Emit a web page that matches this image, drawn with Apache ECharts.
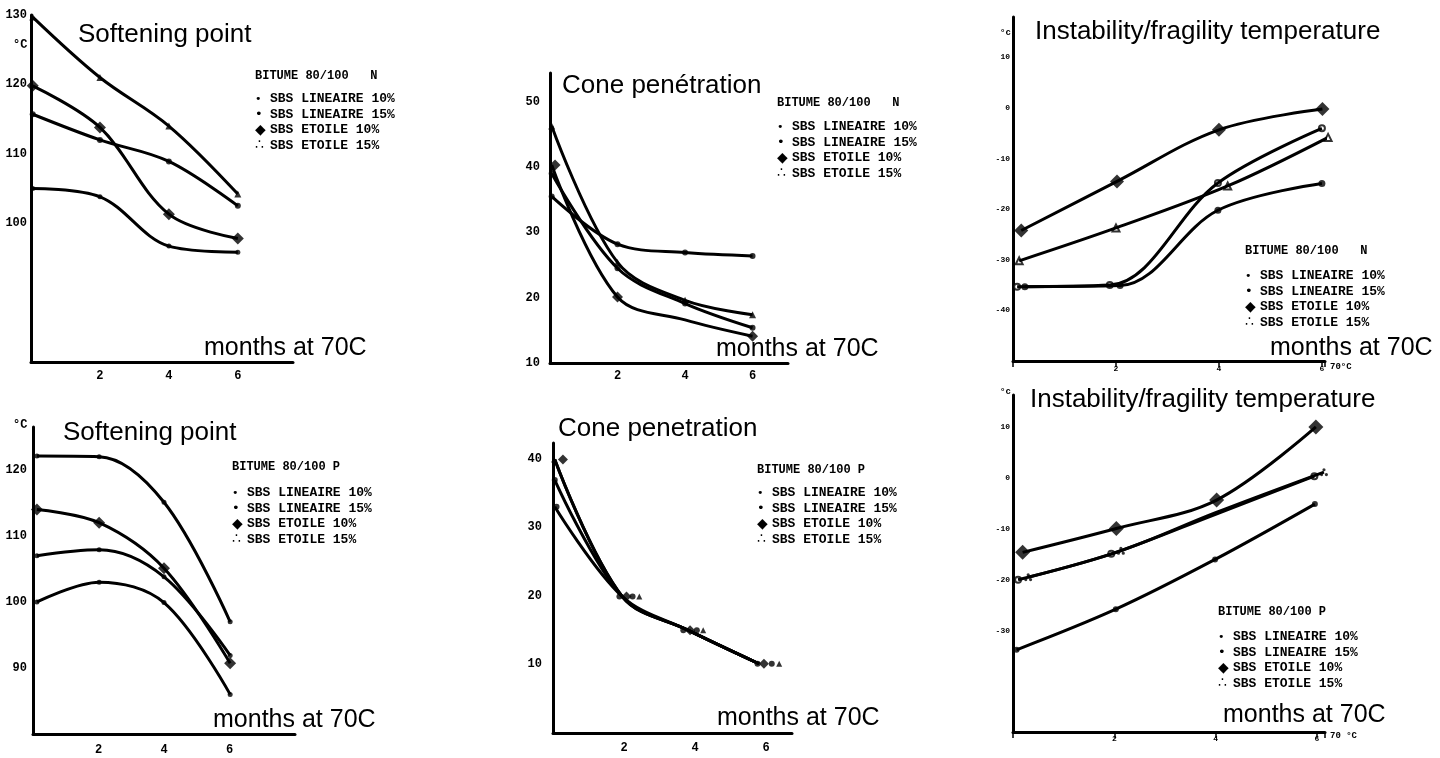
<!DOCTYPE html>
<html>
<head>
<meta charset="utf-8">
<script src="https://cdn.jsdelivr.net/npm/echarts@6/dist/echarts.min.js"></script>
<style>
html, body { margin: 0; padding: 0; background: #fff; }
#chart { width: 1440px; height: 758px; }
</style>
</head>
<body>
<div id="chart"></div>
<script>
// same four blends in every panel
const blendNames = ["SBS LINEAIRE 10%", "SBS LINEAIRE 15%", "SBS ETOILE 10%", "SBS ETOILE 15%"];
const xTickLabels = [2, 4, 6];

// 1 - softening point, bitume 80/100 N
const spN_months = [0.05, 2, 4, 6];
const spN_lin10 = [105.0, 103.8, 96.7, 95.8];
const spN_lin15 = [115.7, 112.0, 108.9, 102.5];
const spN_eto10 = [119.8, 113.8, 101.3, 97.8];
const spN_eto15 = [129.7, 121.0, 114.0, 104.2];
const spN_yTicks = [100, 110, 120, 130];

// 2 - cone penetration, N
const cpN_months = [0.05, 2, 4, 6];
const cpN_eto10_marks = [0.15, 2, null, 6];
const cpN_lin10 = [35.5, 28.2, 26.9, 26.4];
const cpN_lin15 = [39.0, 24.5, 19.1, 15.4];
const cpN_eto10 = [40.3, 20.1, 16.6, 14.1];
const cpN_eto15 = [46.3, 25.4, 19.6, 17.4];
const cpN_yTicks = [10, 20, 30, 40, 50];

// 3 - instability/fragility temperature, N
const ifN_lin10_m = [0.23, 2.08, 3.98, 6.0];
const ifN_lin15_m = [0.08, 1.88, 3.98, 6.0];
const ifN_eto10_m = [0.16, 2.02, 4.0, 6.01];
const ifN_eto15_m = [0.12, 2.0, 4.17, 6.12];
const ifN_lin10 = [-35.3, -35.1, -20.2, -14.9];
const ifN_lin15 = [-35.3, -35.0, -14.8, -4.0];
const ifN_eto10 = [-24.2, -14.5, -4.3, -0.2];
const ifN_eto15 = [-30.2, -23.7, -15.4, -5.8];
const ifN_yTicks = [-40, -30, -20, -10, 0, 10];

// 4 - softening point, P
const spP_months = [0.12, 2.02, 4.0, 6.02];
const spP_lin10 = [100.0, 103.0, 99.9, 86.0];
const spP_lin15 = [107.0, 107.9, 103.8, 91.9];
const spP_eto10 = [114.0, 112.0, 105.1, 90.7];
const spP_eto15 = [122.1, 122.0, 115.1, 97.0];
const spP_yTicks = [90, 100, 110, 120];

// 5 - cone penetration, P (markers drawn side by side)
const cpP_lineMonths = [0.05, 1.95, 3.8, 5.8];
const cpP_lin10_m = [0.05, 1.87, 3.67, 5.76];
const cpP_eto10_m = [0.28, 2.07, 3.86, 5.94];
const cpP_lin15_m = [0.1, 2.24, 4.05, 6.16];
const cpP_eto15_m = [0.03, 2.43, 4.23, 6.37];
const cpP_lin10 = [36.9, 19.9, 15.0, 10.1];
const cpP_lin15 = [33.0, 19.9, 15.0, 10.1];
const cpP_eto10 = [39.9, 19.9, 15.0, 10.1];
const cpP_eto15 = [39.9, 19.9, 15.0, 10.1];
const cpP_yTicks = [10, 20, 30, 40];

// 6 - instability/fragility temperature, P
const ifP_lin10_m = [0.07, 2.03, 3.99, 5.96];
const ifP_lin15_m = [0.1, 1.94, null, 5.95];
const ifP_eto10_m = [0.19, 2.04, 4.02, 5.98];
const ifP_eto15_m = [0.3, 2.13, null, 6.14];
const ifP_lin15_line = [0.1, 1.94, 4.0, 5.95];
const ifP_eto15_line = [0.3, 2.13, 4.0, 6.14];
const ifP_lin10 = [-33.8, -25.8, -16.0, -5.1];
const ifP_lin15 = [-20.0, -14.9, -7.1, 0.4];
const ifP_eto10 = [-14.6, -9.9, -4.3, 10.1];
const ifP_eto15 = [-19.5, -14.3, -6.8, 1.2];
const ifP_yTicks = [-30, -20, -10, 0, 10];

const threeDots = "path://M5,0A2,2 0 1 1 5,4A2,2 0 1 1 5,0ZM2,6A2,2 0 1 1 2,10A2,2 0 1 1 2,6ZM8,6A2,2 0 1 1 8,10A2,2 0 1 1 8,6Z";

const panels = [
  { grid: { left: 31, top: 15, width: 262, height: 347 }, xMax: 7.6, yMin: 80, yMax: 130, yTicks: spN_yTicks, yMargin: 4, xMargin: 8,
    title: "Softening point", titleAt: [78, 35], axisAt: [204, 348], unit: "°C", unitAt: [13, 45],
    head: "BITUME 80/100   N", legendAt: [255, 76, 99],
    blends: [
      { vals: spN_lin10, line: spN_months, marks: spN_months, sym: "circle", size: 5 },
      { vals: spN_lin15, line: spN_months, marks: spN_months, sym: "circle", size: 6 },
      { vals: spN_eto10, line: spN_months, marks: spN_months, sym: "diamond", size: 12 },
      { vals: spN_eto15, line: spN_months, marks: spN_months, sym: "triangle", size: 7 }
    ] },
  { grid: { left: 550, top: 73, width: 238, height: 290 }, xMax: 7.05, yMin: 10, yMax: 54.4, yTicks: cpN_yTicks, yMargin: 10, xMargin: 7,
    title: "Cone penétration", titleAt: [562, 86], axisAt: [716, 349],
    head: "BITUME 80/100   N", legendAt: [777, 103, 127],
    blends: [
      { vals: cpN_lin10, line: cpN_months, marks: cpN_months, sym: "circle", size: 6 },
      { vals: cpN_lin15, line: cpN_months, marks: cpN_months, sym: "circle", size: 6 },
      { vals: cpN_eto10, line: cpN_months, marks: cpN_eto10_marks, sym: "diamond", size: 11 },
      { vals: cpN_eto15, line: cpN_months, marks: cpN_months, sym: "triangle", size: 7 }
    ] },
  { grid: { left: 1013, top: 17, width: 312, height: 344 }, xMax: 6.06, yMin: -50, yMax: 18, yTicks: ifN_yTicks, yMargin: 3, xMargin: 4, tiny: true,
    title: "Instability/fragility temperature", titleAt: [1035, 32], axisAt: [1270, 348], unit: "°c", unitAt: [1000, 33],
    tail: "70°C", tailAt: [1330, 367],
    head: "BITUME 80/100   N", legendAt: [1245, 251, 276],
    blends: [
      { vals: ifN_lin10, line: ifN_lin10_m, marks: ifN_lin10_m, sym: "circle", size: 7 },
      { vals: ifN_lin15, line: ifN_lin15_m, marks: ifN_lin15_m, sym: "emptyCircle", size: 6 },
      { vals: ifN_eto10, line: ifN_eto10_m, marks: ifN_eto10_m, sym: "diamond", size: 14 },
      { vals: ifN_eto15, line: ifN_eto15_m, marks: ifN_eto15_m, sym: "emptyTriangle", size: 7 }
    ] },
  { grid: { left: 33, top: 427, width: 262, height: 307 }, xMax: 8, yMin: 80, yMax: 126.5, yTicks: spP_yTicks, yMargin: 6, xMargin: 10,
    title: "Softening point", titleAt: [63, 433], axisAt: [213, 720], unit: "°C", unitAt: [13, 425],
    head: "BITUME 80/100 P", legendAt: [232, 467, 493],
    blends: [
      { vals: spP_lin10, line: spP_months, marks: spP_months, sym: "circle", size: 5 },
      { vals: spP_lin15, line: spP_months, marks: spP_months, sym: "circle", size: 5 },
      { vals: spP_eto10, line: spP_months, marks: spP_months, sym: "diamond", size: 12 },
      { vals: spP_eto15, line: spP_months, marks: spP_months, sym: "circle", size: 5 }
    ] },
  { grid: { left: 553, top: 443, width: 239, height: 290 }, xMax: 6.73, yMin: 0, yMax: 42.3, yTicks: cpP_yTicks, yMargin: 11, xMargin: 9,
    title: "Cone penetration", titleAt: [558, 429], axisAt: [717, 718],
    head: "BITUME 80/100 P", legendAt: [757, 470, 493],
    blends: [
      { vals: cpP_lin10, line: cpP_lineMonths, marks: cpP_lin10_m, sym: "circle", size: 6 },
      { vals: cpP_lin15, line: cpP_lineMonths, marks: cpP_lin15_m, sym: "circle", size: 6 },
      { vals: cpP_eto10, line: cpP_lineMonths, marks: cpP_eto10_m, sym: "diamond", size: 10 },
      { vals: cpP_eto15, line: cpP_lineMonths, marks: cpP_eto15_m, sym: "triangle", size: 6 }
    ] },
  { grid: { left: 1013, top: 395, width: 312, height: 337 }, xMax: 6.16, yMin: -50, yMax: 16.4, yTicks: ifP_yTicks, yMargin: 3, xMargin: 3, tiny: true,
    title: "Instability/fragility temperature", titleAt: [1030, 400], axisAt: [1223, 715], unit: "°c", unitAt: [1000, 392],
    tail: "70 °C", tailAt: [1330, 736],
    head: "BITUME 80/100 P", legendAt: [1218, 612, 637],
    blends: [
      { vals: ifP_lin10, line: ifP_lin10_m, marks: ifP_lin10_m, sym: "circle", size: 6 },
      { vals: ifP_lin15, line: ifP_lin15_line, marks: ifP_lin15_m, sym: "emptyCircle", size: 6 },
      { vals: ifP_eto10, line: ifP_eto10_m, marks: ifP_eto10_m, sym: "diamond", size: 15 },
      { vals: ifP_eto15, line: ifP_eto15_line, marks: ifP_eto15_m, sym: threeDots, size: 8 }
    ] }
];

const INK = "#000";
const SANS = '"Liberation Sans", Arial, sans-serif';
const MONO = '"Liberation Mono", "DejaVu Sans Mono", monospace';
const legendGlyphs = [["•", 11], ["•", 13], ["◆", 14], ["∴", 14]];

const zip = (xs, ys) => xs.map((x, k) => (x == null ? null : [x, ys[k]])).filter(Boolean);

const series = [];
const graphic = [];

panels.forEach((p, i) => {
  p.blends.forEach((b, k) => {
    series.push({
      name: blendNames[k],
      type: "line",
      xAxisIndex: i,
      yAxisIndex: i,
      smooth: 0.35,
      showSymbol: false,
      silent: true,
      lineStyle: { color: INK, width: 3 },
      data: zip(b.line, b.vals)
    });
    series.push({
      name: blendNames[k],
      type: "scatter",
      xAxisIndex: i,
      yAxisIndex: i,
      clip: false,
      silent: true,
      symbol: b.sym,
      symbolSize: b.size,
      itemStyle: { color: INK, borderColor: INK, borderWidth: b.sym.indexOf("empty") === 0 ? 1.8 : 0 },
      data: zip(b.marks, b.vals)
    });
  });

  graphic.push({
    type: "text", x: p.axisAt[0], y: p.axisAt[1],
    style: { text: "months at 70C", font: "25px " + SANS, fill: INK, textVerticalAlign: "middle" }
  });
  graphic.push({
    type: "text", x: p.legendAt[0], y: p.legendAt[1],
    style: { text: p.head, font: "bold 12px " + MONO, fill: INK, textVerticalAlign: "middle" }
  });
  const rich = { t: { fontFamily: MONO, fontWeight: "bold", fontSize: 13, lineHeight: 15.5 } };
  legendGlyphs.forEach((g, k) => {
    rich["m" + k] = { fontFamily: '"DejaVu Sans"', fontSize: g[1], width: 15, align: "left", lineHeight: 15.5 };
  });
  graphic.push({
    type: "text", x: p.legendAt[0], y: p.legendAt[2] - 7.75,
    style: {
      text: blendNames.map((n, k) => "{m" + k + "|" + legendGlyphs[k][0] + "}{t|" + n + "}").join("\n"),
      rich: rich, fill: INK, textVerticalAlign: "top"
    }
  });
  if (p.unit) {
    graphic.push({
      type: "text", x: p.unitAt[0], y: p.unitAt[1],
      style: { text: p.unit, font: (p.tiny ? "bold 9px " : "bold 12px ") + MONO, fill: INK, textVerticalAlign: "middle" }
    });
  }
  if (p.tail) {
    graphic.push({
      type: "text", x: p.tailAt[0], y: p.tailAt[1],
      style: { text: p.tail, font: "bold 9px " + MONO, fill: INK, textVerticalAlign: "middle" }
    });
  }
});

const option = {
  backgroundColor: "#fff",
  animation: false,
  title: panels.map(p => ({
    text: p.title,
    left: p.titleAt[0],
    top: p.titleAt[1] - 13,
    padding: 0,
    textStyle: { fontFamily: SANS, fontSize: 26, fontWeight: "normal", color: INK, lineHeight: 26 }
  })),
  grid: panels.map(p => Object.assign({ containLabel: false }, p.grid)),
  xAxis: panels.map((p, i) => ({
    type: "value",
    gridIndex: i,
    min: 0,
    max: p.xMax,
    interval: 2,
    axisLine: { show: true, onZero: false, lineStyle: { color: INK, width: 3 } },
    axisTick: { show: !!p.tiny, length: 6, lineStyle: { color: INK, width: 1.5 } },
    splitLine: { show: false },
    axisLabel: {
      margin: p.xMargin,
      color: INK,
      fontFamily: MONO,
      fontWeight: "bold",
      fontSize: p.tiny ? 8 : 12,
      formatter: v => (xTickLabels.indexOf(v) >= 0 ? String(v) : "")
    }
  })),
  yAxis: panels.map((p, i) => ({
    type: "value",
    gridIndex: i,
    min: p.yMin,
    max: p.yMax,
    interval: 10,
    axisLine: { show: true, onZero: false, lineStyle: { color: INK, width: 3 } },
    axisTick: { show: false },
    splitLine: { show: false },
    axisLabel: {
      margin: p.yMargin,
      color: INK,
      fontFamily: MONO,
      fontWeight: "bold",
      fontSize: p.tiny ? 8 : 12,
      formatter: v => (p.yTicks.indexOf(v) >= 0 ? String(v) : "")
    }
  })),
  graphic: graphic,
  series: series
};

const chart = echarts.init(document.getElementById("chart"));
chart.setOption(option);
window.addEventListener("resize", () => chart.resize());
</script>
</body>
</html>
